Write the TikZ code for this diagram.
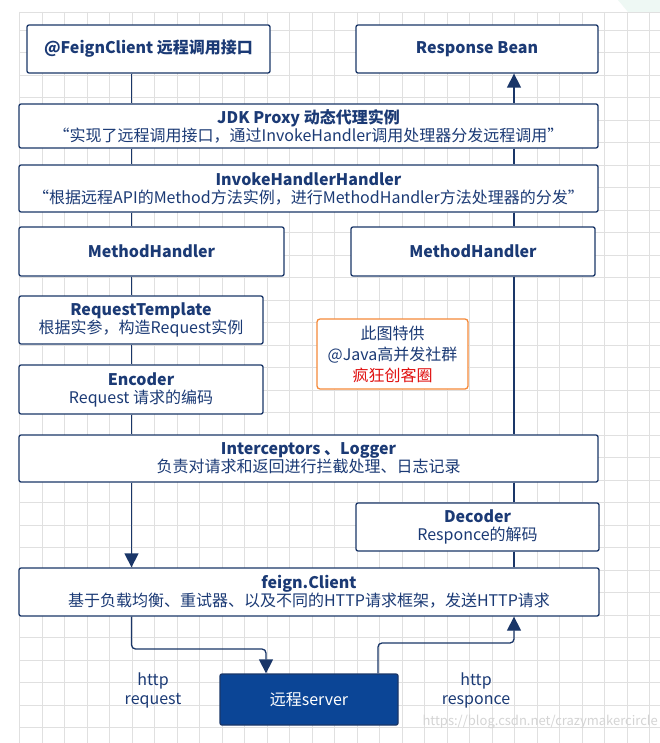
\documentclass[tikz,border=0pt]{standalone}
\usepackage{fontspec}
\setmainfont{Noto Sans CJK SC}
\usetikzlibrary{arrows.meta}
\definecolor{lc}{HTML}{1A3668}
\definecolor{tc}{HTML}{1B3A75}
\definecolor{gridc}{HTML}{E0E0E0}
\definecolor{srvc}{HTML}{0B4596}
\definecolor{orc}{HTML}{F58A3A}
\definecolor{redc}{HTML}{E01010}
\definecolor{wmc}{HTML}{D4D4D4}
\definecolor{mint}{HTML}{EEF8F4}
\tikzset{
  box/.style={draw=lc, line width=1.3pt, fill=white, rounded corners=2pt, text=tc, align=center, inner sep=0pt, font=\fontsize{16}{18}\selectfont},
  srvbox/.style={draw=lc, line width=1.3pt, fill=srvc, rounded corners=2pt, text=white, align=center, inner sep=0pt, font=\fontsize{16}{18}\selectfont},
  notebox/.style={draw=orc, line width=1.3pt, fill=white, rounded corners=3pt, text=tc, align=center, inner sep=0pt, font=\fontsize{16}{21}\selectfont},
  lbl/.style={text=tc, align=center, inner sep=0pt, font=\fontsize{16}{19}\selectfont},
  wire/.style={draw=lc, line width=1.3pt, rounded corners=4pt},
  arr/.style={wire, -{Triangle[width=14pt,length=14pt]}},
}
\begin{document}
\begin{tikzpicture}[x=1pt,y=-1pt]
\useasboundingbox (0,0) rectangle (660,743);
\fill[white] (0,0) rectangle (660,743);
\fill[mint] (618,0) -- (660,0) -- (660,12) -- (628,12) -- cycle;
% grid
\foreach \i in {0,...,28} { \draw[gridc, line width=0.8pt] (19.5+22.5*\i,12) -- (19.5+22.5*\i,743); }
\draw[gridc, line width=0.8pt] (19.5,12) -- (660,12);
\foreach \j in {0,...,31} { \draw[gridc, line width=0.8pt] (19.5,30+22.5*\j) -- (660,30+22.5*\j); }
% watermark
\node[anchor=east, text=wmc, inner sep=0pt, font=\fontsize{13}{16}\selectfont] (wm) at (658,722) {https://blog.csdn.net/crazymakercircle};

\coordinate (lx) at (131.5,0);
\coordinate (rx) at (514,0);

% boxes
\node[box, minimum width=243pt, minimum height=48pt] (fc) at (148.5,49) {\textbf{@FeignClient 远程调用接口}};
\node[box, minimum width=242pt, minimum height=48pt] (rb) at (477,49) {\textbf{Response Bean}};
\node[box, minimum width=579pt, minimum height=44pt] (jdk) at (308.5,126) {\textbf{JDK Proxy 动态代理实例}\\“实现了远程调用接口，通过InvokeHandler调用处理器分发远程调用”};
\node[box, minimum width=579pt, minimum height=47pt] (ihh) at (308.5,188.5) {\textbf{InvokeHandlerHandler}\\“根据远程API的Method方法实例，进行MethodHandler方法处理器的分发”};
\node[box, minimum width=265pt, minimum height=49pt] (mhl) at (151.5,251.5) {\textbf{MethodHandler}};
\node[box, minimum width=244pt, minimum height=49pt] (mhr) at (473,251.5) {\textbf{MethodHandler}};
\node[box, minimum width=244pt, minimum height=48pt] (rt) at (141,320) {\textbf{RequestTemplate}\\根据实参，构造Request实例};
\node[box, minimum width=244pt, minimum height=49pt] (enc) at (141,389.5) {\textbf{Encoder}\\Request 请求的编码};
\node[notebox, minimum width=151pt, minimum height=70pt] (note) at (392.5,354) {此图特供\\@Java高并发社群\\\textcolor{redc}{疯狂创客圈}};
\node[box, minimum width=579pt, minimum height=47pt] (ic) at (308.5,458.5) {\textbf{Interceptors 、Logger}\\负责对请求和返回进行拦截处理、日志记录};
\node[box, minimum width=243pt, minimum height=48pt] (dec) at (477.5,527) {\textbf{Decoder}\\Responce的解码};
\node[box, minimum width=580pt, minimum height=48pt] (fcl) at (309,592) {\textbf{feign.Client}\\基于负载均衡、重试器、以及不同的HTTP请求框架，发送HTTP请求};
\node[srvbox, minimum width=178pt, minimum height=51pt] (srv) at (309,699.5) {远程server};

\node[lbl] (lreq) at (153,690) {http\\request};
\node[lbl] (lresp) at (476,690) {http\\responce};

% left chain
\draw[wire] (fc.south -| lx) -- (jdk.north -| lx);
\draw[wire] (jdk.south -| lx) -- (ihh.north -| lx);
\draw[wire] (ihh.south -| lx) -- (mhl.north -| lx);
\draw[wire] (mhl.south -| lx) -- (rt.north -| lx);
\draw[wire] (rt.south -| lx) -- (enc.north -| lx);
\draw[wire] (enc.south -| lx) -- (ic.north -| lx);
\draw[arr] (ic.south -| lx) -- (fcl.north -| lx);
\coordinate (rq) at (266,649);
\draw[arr] (fcl.south -| lx) |- (rq) -- (srv.north -| rq);

% right chain
\coordinate (rs) at (378,643);
\draw[arr] (srv.north -| rs) |- (rx |- rs) -- (fcl.south -| rx);
\draw[wire] (fcl.north -| rx) -- (dec.south -| rx);
\draw[wire] (dec.north -| rx) -- (ic.south -| rx);
\draw[wire] (ic.north -| rx) -- (mhr.south -| rx);
\draw[wire] (mhr.north -| rx) -- (ihh.south -| rx);
\draw[wire] (ihh.north -| rx) -- (jdk.south -| rx);
\draw[arr] (jdk.north -| rx) -- (rb.south -| rx);
\end{tikzpicture}
\end{document}
